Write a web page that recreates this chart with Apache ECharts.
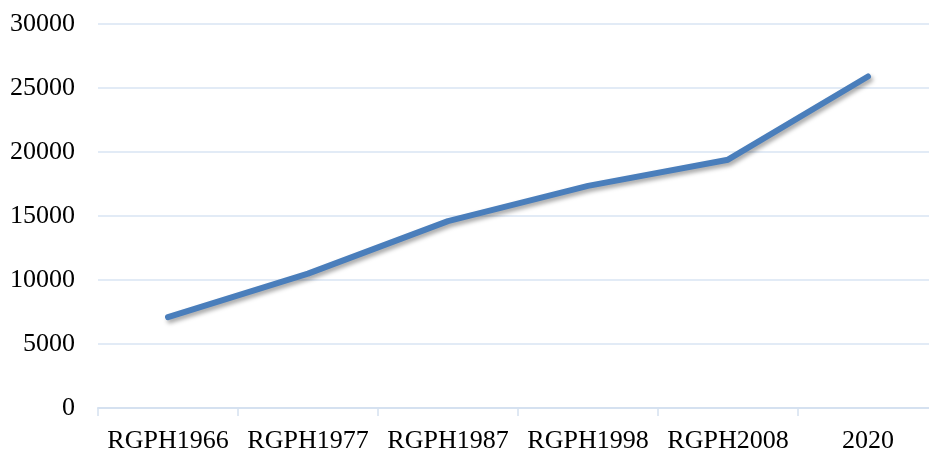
<!DOCTYPE html>
<html><head><meta charset="utf-8">
<script src="https://cdn.jsdelivr.net/npm/echarts@6/dist/echarts.min.js"></script>
<style>html,body{margin:0;padding:0;background:#fff}#c{width:929px;height:451px}</style>
</head><body><div id="c"></div>
<script>
const categories = ['RGPH1966','RGPH1977','RGPH1987','RGPH1998','RGPH2008','2020'];
const values = [7100, 10500, 14600, 17350, 19400, 25900];
const yTicks = [0, 5000, 10000, 15000, 20000, 25000, 30000];

const chart = echarts.init(document.getElementById('c'));
const font = '"Liberation Serif", "Times New Roman", serif';
chart.setOption({
  animation: false,
  grid: { left: 98, top: 24, width: 840, height: 384, containLabel: false, outerBoundsMode: 'none' },
  xAxis: {
    type: 'category', data: categories, boundaryGap: true,
    axisLine: { lineStyle: { color: '#D5E1F0', width: 2 } },
    axisTick: { show: true, length: 8, lineStyle: { color: '#D5E1F0', width: 1.5 }, alignWithLabel: false },
    axisLabel: { color: '#000', fontFamily: font, fontSize: 26, margin: 20, interval: 0, hideOverlap: false }
  },
  yAxis: {
    type: 'value', min: yTicks[0], max: yTicks[yTicks.length-1], interval: 5000,
    axisLine: { show: false }, axisTick: { show: false },
    splitLine: { lineStyle: { color: '#D9E4F3', width: 1.5 } },
    axisLabel: { color: '#000', fontFamily: font, fontSize: 26, margin: 23, formatter: v => String(v) }
  },
  series: [{
    type: 'line', data: values, symbol: 'none',
    lineStyle: { color: '#4A7EBB', width: 6, cap: 'round', join: 'round',
      shadowColor: 'rgba(0,0,0,0.35)', shadowBlur: 4, shadowOffsetX: 2, shadowOffsetY: 3 }
  }]
});
</script></body></html>
